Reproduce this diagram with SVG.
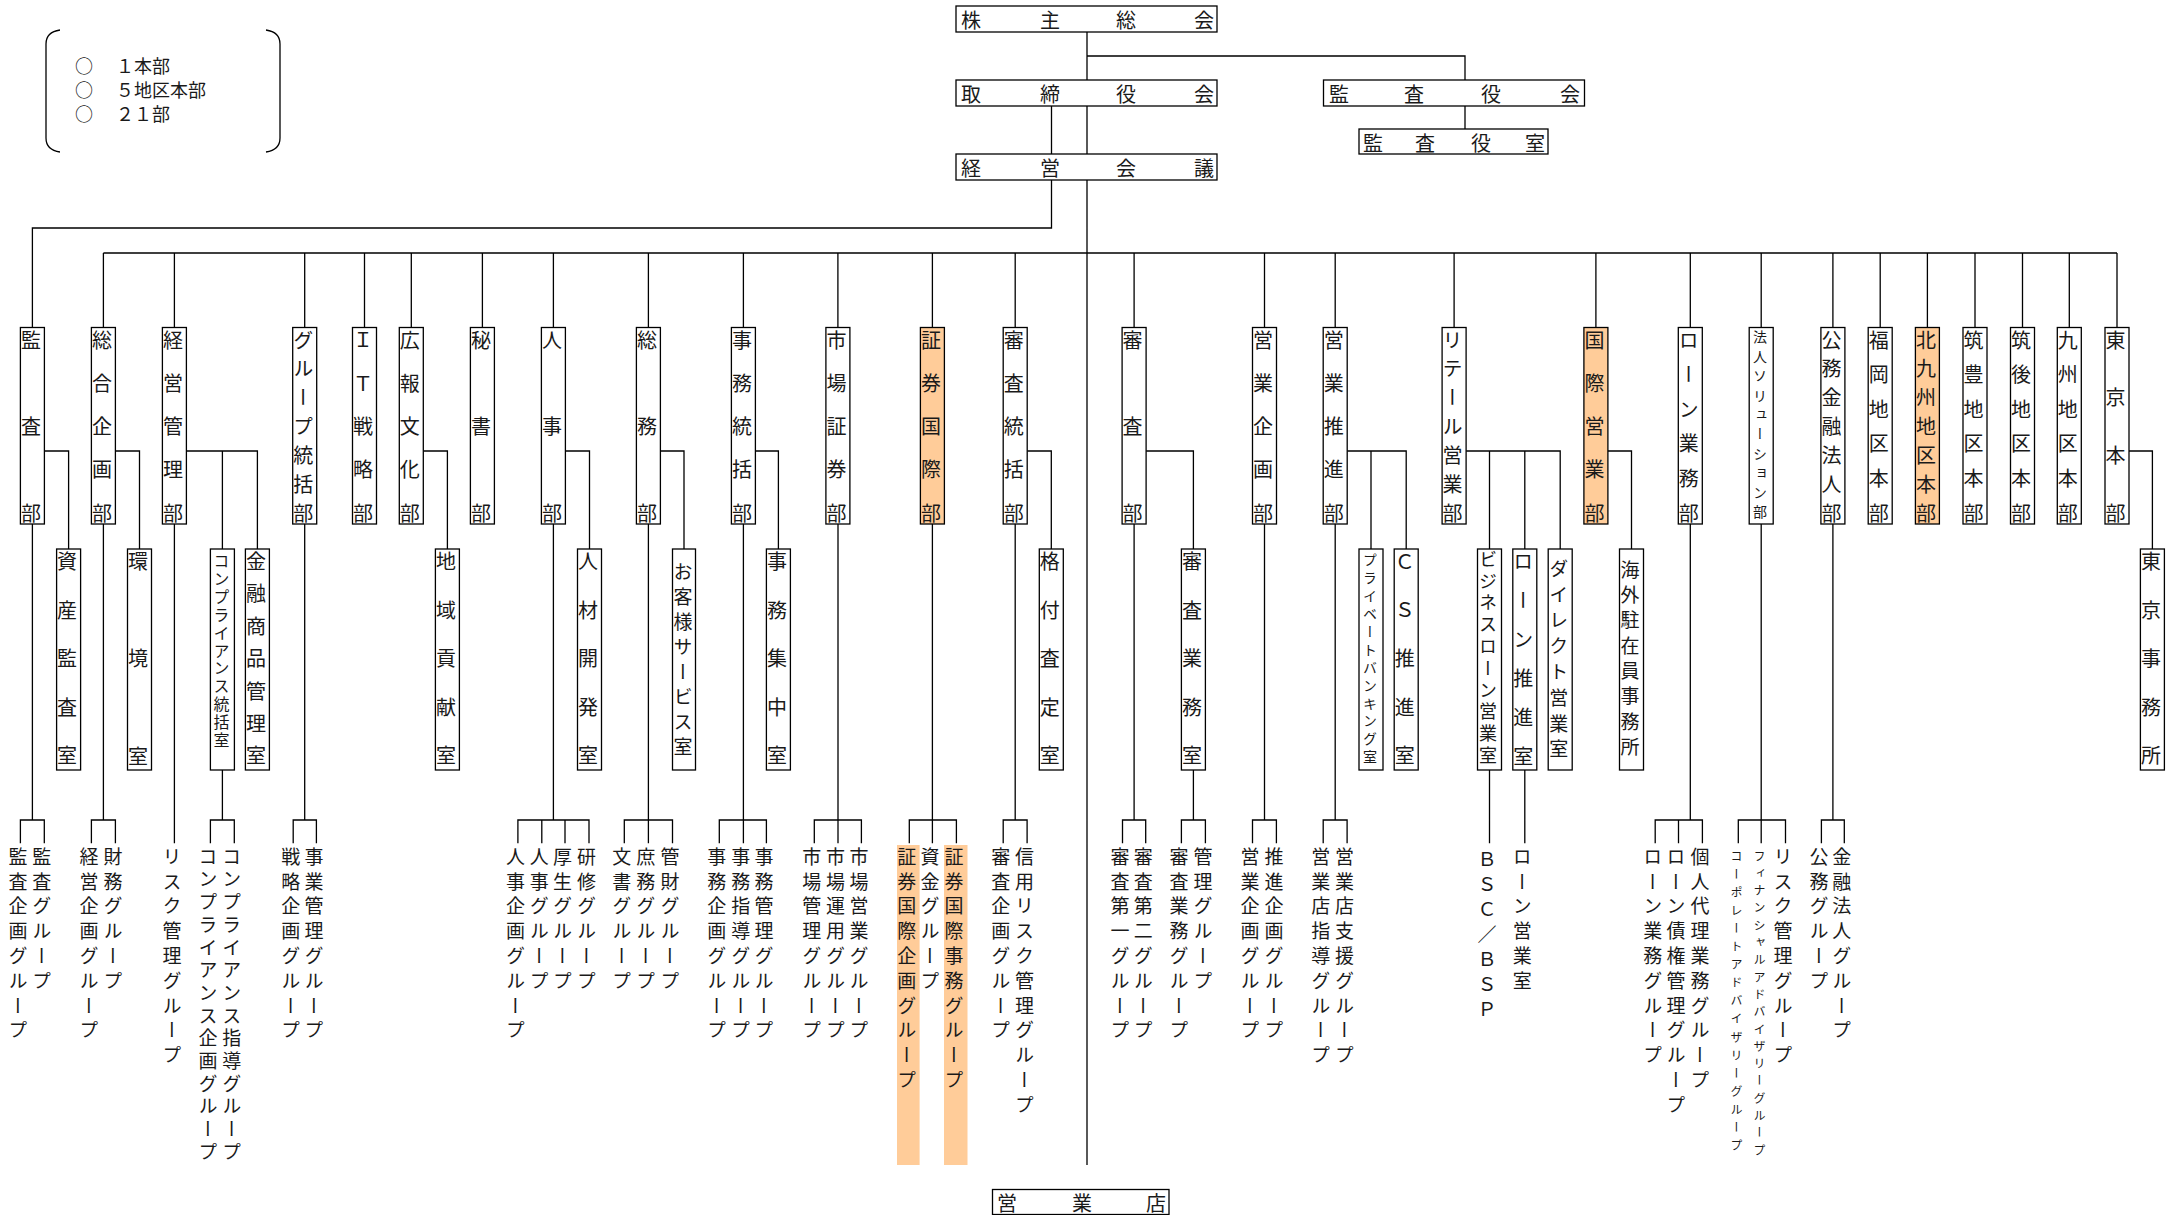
<svg xmlns="http://www.w3.org/2000/svg" width="2172" height="1215" viewBox="0 0 2172 1215">
<style>
.bx{fill:#fff;stroke:#000;stroke-width:1.3}
.or{fill:#FFCC99;stroke:#000;stroke-width:1.3}
.hl{fill:#FFCC99;stroke:none}
.t{font-family:"Noto Sans CJK JP","Noto Sans",sans-serif;fill:#1a1a1a}
.h{font-size:20px;dominant-baseline:central}
.lg{font-size:18px;dominant-baseline:central}
.v{writing-mode:vertical-rl;font-size:20px}
.g{writing-mode:vertical-rl;font-size:19px;letter-spacing:5.8px}
.l3{letter-spacing:66.5px}.l4{letter-spacing:37.67px}.l5{letter-spacing:23.25px}.l6{letter-spacing:14.6px}.l7{letter-spacing:8.83px}
.m3{letter-spacing:77.25px}.m5{letter-spacing:28.6px}.m6{letter-spacing:18.9px}.m7{letter-spacing:12.4px}
.cn{fill:none;stroke:#000;stroke-width:1.3}
</style>

<g id="legend">
<path class="cn" d="M60,30 Q46,32 46,44 V138 Q46,150 60,152 M266,30 Q280,32 280,44 V138 Q280,150 266,152"/>
<text class="t lg" y="65"><tspan x="75">○</tspan><tspan x="116">１本部</tspan></text>
<text class="t lg" y="89"><tspan x="75">○</tspan><tspan x="116">５地区本部</tspan></text>
<text class="t lg" y="113"><tspan x="75">○</tspan><tspan x="116">２１部</tspan></text>
</g>

<g id="connectors">
<path class="cn" d="M1087,32 V80 M1087,106 V154 M1087,180 V1165 M1087,56 H1465 V80 M1465,106 V129 M1051.5,106 V154 M1051.5,180 V228 H32.4 V327.5 M103.4,253 H2117
M103.4,253 V327.5 M174.4,253 V327.5 M304.7,253 V327.5 M364.5,253 V327.5 M411.3,253 V327.5 M482.4,253 V327.5 M553.4,253 V327.5 M648.4,253 V327.5 M743.4,253 V327.5 M837.9,253 V327.5 M932.4,253 V327.5 M1015.2,253 V327.5 M1134.1,253 V327.5 M1264.5,253 V327.5 M1335.2,253 V327.5 M1454.1,253 V327.5 M1595.9,253 V327.5 M1690.3,253 V327.5 M1761.2,253 V327.5 M1832.9,253 V327.5 M1880.2,253 V327.5 M1927.4,253 V327.5 M1975,253 V327.5 M2022.5,253 V327.5 M2069.3,253 V327.5 M2117,253 V327.5
M44.4,451 H68.6 V549 M115.4,451 H139.5 V549 M186.4,451 H257.4 V549 M222.4,451 V549 M423.3,451 H447.4 V549 M565.4,451 H589.5 V549 M660.4,451 H684 V549 M755.4,451 H778.4 V549 M1027.2,451 H1051.3 V549 M1146.1,451 H1193.4 V549 M1347.2,451 H1406.2 V549 M1371,451 V549 M1466.1,451 H1560.2 V549 M1489.5,451 V549 M1524.8,451 V549 M1607.9,451 H1631.5 V549 M2129,451 H2152.4 V549
M32.4,524 V820 M20.4,843.3 V820 H44.3 V843.3
M103.4,524 V820 M91.4,843.3 V820 H115.4 V843.3
M174.4,524 V843.3
M222.4,770 V820 M210.4,843.3 V820 H234.3 V843.3
M304.7,524 V820 M293.2,843.3 V820 H316.4 V843.3
M553.4,524 V820 M517.9,843.3 V820 H589 V843.3 M541.8,820 V843.3 M565,820 V843.3
M648.4,524 V843.3 M624.3,843.3 V820 H672.5 V843.3
M743.4,524 V843.3 M719.3,843.3 V820 H766.4 V843.3
M838,524 V843.3 M814.3,843.3 V820 H861.4 V843.3
M932.4,524 V843.3 M909.3,843.3 V820 H956.4 V843.3
M1015.2,524 V820 M1003.2,843.3 V820 H1027.1 V843.3
M1134.1,524 V820 M1122.5,843.3 V820 H1145.7 V843.3
M1193.4,770 V820 M1181.4,843.3 V820 H1205.4 V843.3
M1264.5,524 V820 M1252.5,843.3 V820 H1276.4 V843.3
M1335.2,524 V820 M1323.2,843.3 V820 H1347.1 V843.3
M1489.5,770 V843.3 M1524.8,770 V843.3
M1690.3,524 V820 M1655.2,843.3 V820 H1702.4 V843.3 M1678.5,820 V843.3
M1761.2,524 V843.3 M1738.3,843.3 V820 H1785.5 V843.3
M1832.9,524 V820 M1821.4,843.3 V820 H1844.3 V843.3"/>
</g>

<g id="kabunushi"><rect class="bx" x="956" y="6" width="261" height="26"/><text class="t h" y="19"><tspan x="961">株</tspan><tspan x="1040">主</tspan><tspan x="1116">総</tspan><tspan x="1194">会</tspan></text></g>
<g id="torishimariyaku"><rect class="bx" x="956" y="80" width="261" height="26"/><text class="t h" y="93"><tspan x="961">取</tspan><tspan x="1040">締</tspan><tspan x="1116">役</tspan><tspan x="1194">会</tspan></text></g>
<g id="keiei"><rect class="bx" x="956" y="154" width="261" height="26"/><text class="t h" y="167"><tspan x="961">経</tspan><tspan x="1040">営</tspan><tspan x="1116">会</tspan><tspan x="1194">議</tspan></text></g>
<g id="kansayakukai"><rect class="bx" x="1323.5" y="80" width="261" height="26"/><text class="t h" y="93"><tspan x="1329">監</tspan><tspan x="1404">査</tspan><tspan x="1481">役</tspan><tspan x="1560">会</tspan></text></g>
<g id="kansayakushitsu"><rect class="bx" x="1359" y="129" width="189" height="25"/><text class="t h" y="141.5"><tspan x="1363">監</tspan><tspan x="1415">査</tspan><tspan x="1471">役</tspan><tspan x="1525">室</tspan></text></g>
<g id="eigyoten"><rect class="bx" x="992.5" y="1189.5" width="176.5" height="25"/><text class="t h" y="1202"><tspan x="997">営</tspan><tspan x="1072">業</tspan><tspan x="1146">店</tspan></text></g>

<g id="d-kansa"><rect class="bx" x="20.4" y="327.5" width="24" height="196.5"/><text class="t v l3" x="30.9" y="330">監査部</text></g>
<g id="d-sogokikaku"><rect class="bx" x="91.4" y="327.5" width="24" height="196.5"/><text class="t v l5" x="101.9" y="330">総合企画部</text></g>
<g id="d-keieikanri"><rect class="bx" x="162.4" y="327.5" width="24" height="196.5"/><text class="t v l5" x="172.9" y="330">経営管理部</text></g>
<g id="d-group"><rect class="bx" x="292.7" y="327.5" width="24" height="196.5"/><text class="t v l7" x="303.2" y="330">グループ統括部</text></g>
<g id="d-it"><rect class="bx" x="352.5" y="327.5" width="24" height="196.5"/><text class="t v l5" x="363" y="330">ＩＴ戦略部</text></g>
<g id="d-koho"><rect class="bx" x="399.3" y="327.5" width="24" height="196.5"/><text class="t v l5" x="409.8" y="330">広報文化部</text></g>
<g id="d-hisho"><rect class="bx" x="470.4" y="327.5" width="24" height="196.5"/><text class="t v l3" x="480.9" y="330">秘書部</text></g>
<g id="d-jinji"><rect class="bx" x="541.4" y="327.5" width="24" height="196.5"/><text class="t v l3" x="551.9" y="330">人事部</text></g>
<g id="d-somu"><rect class="bx" x="636.4" y="327.5" width="24" height="196.5"/><text class="t v l3" x="646.9" y="330">総務部</text></g>
<g id="d-jimu"><rect class="bx" x="731.4" y="327.5" width="24" height="196.5"/><text class="t v l5" x="741.9" y="330">事務統括部</text></g>
<g id="d-shijo"><rect class="bx" x="825.9" y="327.5" width="24" height="196.5"/><text class="t v l5" x="836.4" y="330">市場証券部</text></g>
<g id="d-shokenkokusai"><rect class="or" x="920.4" y="327.5" width="24" height="196.5"/><text class="t v l5" x="930.9" y="330">証券国際部</text></g>
<g id="d-shinsatokatsu"><rect class="bx" x="1003.2" y="327.5" width="24" height="196.5"/><text class="t v l5" x="1013.7" y="330">審査統括部</text></g>
<g id="d-shinsa"><rect class="bx" x="1122.1" y="327.5" width="24" height="196.5"/><text class="t v l3" x="1132.6" y="330">審査部</text></g>
<g id="d-eigyokikaku"><rect class="bx" x="1252.5" y="327.5" width="24" height="196.5"/><text class="t v l5" x="1263" y="330">営業企画部</text></g>
<g id="d-eigyosuishin"><rect class="bx" x="1323.2" y="327.5" width="24" height="196.5"/><text class="t v l5" x="1333.7" y="330">営業推進部</text></g>
<g id="d-retail"><rect class="bx" x="1442.1" y="327.5" width="24" height="196.5"/><text class="t v l7" x="1452.6" y="330">リテール営業部</text></g>
<g id="d-kokusaieigyo"><rect class="or" x="1583.9" y="327.5" width="24" height="196.5"/><text class="t v l5" x="1594.4" y="330">国際営業部</text></g>
<g id="d-loangyomu"><rect class="bx" x="1678.3" y="327.5" width="24" height="196.5"/><text class="t v l6" x="1688.8" y="330">ローン業務部</text></g>
<g id="d-hojinsol"><rect class="bx" x="1749.2" y="327.5" width="24" height="196.5"/><text class="t v" style="font-size:14px;letter-spacing:5.4px" x="1760" y="330">法人ソリューション部</text></g>
<g id="d-komu"><rect class="bx" x="1820.9" y="327.5" width="24" height="196.5"/><text class="t v l7" x="1831.4" y="330">公務金融法人部</text></g>
<g id="d-fukuoka"><rect class="bx" x="1868.2" y="327.5" width="24" height="196.5"/><text class="t v l6" x="1878.7" y="330">福岡地区本部</text></g>
<g id="d-kitakyushu"><rect class="or" x="1915.4" y="327.5" width="24" height="196.5"/><text class="t v l7" x="1925.9" y="330">北九州地区本部</text></g>
<g id="d-chikuho"><rect class="bx" x="1963" y="327.5" width="24" height="196.5"/><text class="t v l6" x="1973.5" y="330">筑豊地区本部</text></g>
<g id="d-chikugo"><rect class="bx" x="2010.5" y="327.5" width="24" height="196.5"/><text class="t v l6" x="2021" y="330">筑後地区本部</text></g>
<g id="d-kyushu"><rect class="bx" x="2057.3" y="327.5" width="24" height="196.5"/><text class="t v l6" x="2067.8" y="330">九州地区本部</text></g>
<g id="d-tokyo"><rect class="bx" x="2105" y="327.5" width="24" height="196.5"/><text class="t v l4" x="2115.5" y="330">東京本部</text></g>

<g id="s-shisankansa"><rect class="bx" x="56.6" y="549" width="24" height="221"/><text class="t v m5" x="67.1" y="551.5">資産監査室</text></g>
<g id="s-kankyo"><rect class="bx" x="127.5" y="549" width="24" height="221"/><text class="t v m3" x="138" y="551.5">環境室</text></g>
<g id="s-compliance"><rect class="bx" x="210.4" y="549" width="24" height="221"/><text class="t v" style="font-size:16px;letter-spacing:1.9px" x="221.4" y="553">コンプライアンス統括室</text></g>
<g id="s-kinyushohin"><rect class="bx" x="245.4" y="549" width="24" height="221"/><text class="t v m7" x="255.9" y="551.5">金融商品管理室</text></g>
<g id="s-chiiki"><rect class="bx" x="435.4" y="549" width="24" height="221"/><text class="t v m5" x="445.9" y="551.5">地域貢献室</text></g>
<g id="s-jinzai"><rect class="bx" x="577.5" y="549" width="24" height="221"/><text class="t v m5" x="588" y="551.5">人材開発室</text></g>
<g id="s-okyakusama"><rect class="bx" x="672.5" y="549" width="23" height="221"/><text class="t v" style="font-size:19px;letter-spacing:6px" x="683" y="562">お客様サービス室</text></g>
<g id="s-jimushuchu"><rect class="bx" x="766.4" y="549" width="24" height="221"/><text class="t v m5" x="776.9" y="551.5">事務集中室</text></g>
<g id="s-kakuzuke"><rect class="bx" x="1039.3" y="549" width="24" height="221"/><text class="t v m5" x="1049.8" y="551.5">格付査定室</text></g>
<g id="s-shinsagyomu"><rect class="bx" x="1181.4" y="549" width="24" height="221"/><text class="t v m5" x="1191.9" y="551.5">審査業務室</text></g>
<g id="s-private"><rect class="bx" x="1359" y="549" width="24" height="221"/><text class="t v" style="font-size:14px;letter-spacing:3.9px" x="1370" y="553">プライベートバンキング室</text></g>
<g id="s-cs"><rect class="bx" x="1394.2" y="549" width="24" height="221"/><text class="t v m5" x="1404.7" y="551.5">ＣＳ推進室</text></g>
<g id="s-bizloan"><rect class="bx" x="1477.5" y="549" width="24" height="221"/><text class="t v" style="font-size:18px;letter-spacing:3.8px" x="1488" y="550">ビジネスローン営業室</text></g>
<g id="s-loansuishin"><rect class="bx" x="1512.8" y="549" width="24" height="221"/><text class="t v m6" x="1523.3" y="551.5">ローン推進室</text></g>
<g id="s-direct"><rect class="bx" x="1548.2" y="549" width="24" height="221"/><text class="t v" style="font-size:19px;letter-spacing:6.8px" x="1558.7" y="559">ダイレクト営業室</text></g>
<g id="s-kaigai"><rect class="bx" x="1619.5" y="549" width="24" height="221"/><text class="t v" style="font-size:19px;letter-spacing:6.3px" x="1630" y="560">海外駐在員事務所</text></g>
<g id="s-tokyojimusho"><rect class="bx" x="2140.4" y="549" width="24" height="221"/><text class="t v m5" x="2150.9" y="551.5">東京事務所</text></g>

<g id="groups">
<rect class="hl" x="897" y="845" width="22.6" height="320"/>
<rect class="hl" x="944" y="845" width="23.5" height="320"/>
<text class="t g" x="17.9" y="847">監査企画グループ</text>
<text class="t g" x="41.8" y="847">監査グループ</text>
<text class="t g" x="88.9" y="847">経営企画グループ</text>
<text class="t g" x="112.9" y="847">財務グループ</text>
<text class="t g" x="171.9" y="847">リスク管理グループ</text>
<text class="t g" style="letter-spacing:3.7px" x="207.9" y="847">コンプライアンス企画グループ</text>
<text class="t g" style="letter-spacing:3.7px" x="231.8" y="847">コンプライアンス指導グループ</text>
<text class="t g" x="290.7" y="847">戦略企画グループ</text>
<text class="t g" x="313.9" y="847">事業管理グループ</text>
<text class="t g" x="515.4" y="847">人事企画グループ</text>
<text class="t g" x="539.3" y="847">人事グループ</text>
<text class="t g" x="562.5" y="847">厚生グループ</text>
<text class="t g" x="586.5" y="847">研修グループ</text>
<text class="t g" x="621.8" y="847">文書グループ</text>
<text class="t g" x="645.8" y="847">庶務グループ</text>
<text class="t g" x="670" y="847">管財グループ</text>
<text class="t g" x="716.8" y="847">事務企画グループ</text>
<text class="t g" x="740.8" y="847">事務指導グループ</text>
<text class="t g" x="763.9" y="847">事務管理グループ</text>
<text class="t g" x="811.8" y="847">市場管理グループ</text>
<text class="t g" x="835.5" y="847">市場運用グループ</text>
<text class="t g" x="858.9" y="847">市場営業グループ</text>
<text class="t g" x="906.8" y="847">証券国際企画グループ</text>
<text class="t g" x="929.9" y="847">資金グループ</text>
<text class="t g" x="953.9" y="847">証券国際事務グループ</text>
<text class="t g" x="1000.7" y="847">審査企画グループ</text>
<text class="t g" x="1024.6" y="847">信用リスク管理グループ</text>
<text class="t g" x="1120" y="847">審査第一グループ</text>
<text class="t g" x="1143.2" y="847">審査第二グループ</text>
<text class="t g" x="1178.9" y="847">審査業務グループ</text>
<text class="t g" x="1202.9" y="847">管理グループ</text>
<text class="t g" x="1250" y="847">営業企画グループ</text>
<text class="t g" x="1273.9" y="847">推進企画グループ</text>
<text class="t g" x="1320.7" y="847">営業店指導グループ</text>
<text class="t g" x="1344.6" y="847">営業店支援グループ</text>
<text class="t g" style="letter-spacing:6px" x="1487" y="850">ＢＳＣ／ＢＳＰ</text>
<text class="t g" x="1522.3" y="847">ローン営業室</text>
<text class="t g" x="1652.7" y="847">ローン業務グループ</text>
<text class="t g" x="1676" y="847">ローン債権管理グループ</text>
<text class="t g" x="1699.9" y="847">個人代理業務グループ</text>
<text class="t g" style="font-size:12px;letter-spacing:6.1px" x="1736.5" y="850">コーポレートアドバイザリーグループ</text>
<text class="t g" style="font-size:12px;letter-spacing:5.3px" x="1759.6" y="850">フィナンシャルアドバイザリーグループ</text>
<text class="t g" x="1783" y="847">リスク管理グループ</text>
<text class="t g" x="1818.9" y="847">公務グループ</text>
<text class="t g" x="1841.8" y="847">金融法人グループ</text>
</g>
</svg>
